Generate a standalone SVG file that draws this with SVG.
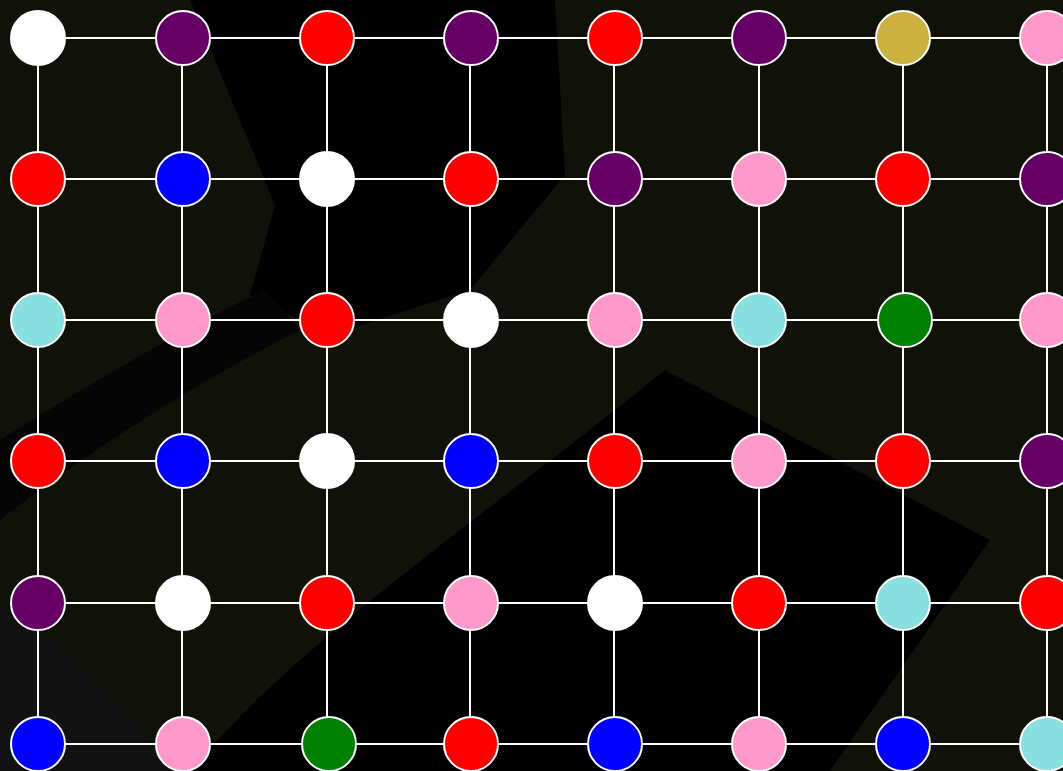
<svg xmlns="http://www.w3.org/2000/svg" width="1063" height="771" viewBox="0 0 1063 771">
<defs>
<style>
.e{stroke:#ffffff;stroke-width:2;fill:none}
.n{stroke:#ffffff;stroke-width:2}
.w{fill:#ffffff}.p{fill:#660066}.r{fill:#ff0000}.b{fill:#0000ff}.k{fill:#ff99cc}.c{fill:#88e0e0}.g{fill:#008000}.y{fill:#ccb040}
</style>
</defs>
<rect width="1063" height="771" fill="#10120a"/>
<g id="background">
<path d="M190,0 H555 L565,175 L470,290 L330,335 L250,295 L275,205 Z" fill="#000000"/>
<path d="M0,440 C80,390 180,330 265,290 L300,330 C200,380 90,450 0,520 Z" fill="#050505"/>
<path d="M190,771 C300,640 480,520 665,370 L990,540 L830,771 Z" fill="#000000"/>
<path d="M0,600 C60,650 120,700 170,771 H0 Z" fill="#121212"/>
</g>
<g id="connectors">
<path class="e" d="M38,38H1047M38,179H1047M38,320H1047M38,461H1047M38,603H1047M38,744H1047"/>
<path class="e" d="M38,38V744M182,38V744M327,38V744M470,38V744M614,38V744M759,38V744M903,38V744M1047,38V744"/>
</g>
<g id="nodes">
<g id="n0_0"><circle class="n w" cx="38" cy="38" r="27"/></g>
<g id="n0_1"><circle class="n p" cx="183" cy="38" r="27"/></g>
<g id="n0_2"><circle class="n r" cx="327" cy="38" r="27"/></g>
<g id="n0_3"><circle class="n p" cx="471" cy="38" r="27"/></g>
<g id="n0_4"><circle class="n r" cx="615" cy="38" r="27"/></g>
<g id="n0_5"><circle class="n p" cx="759" cy="38" r="27"/></g>
<g id="n0_6"><circle class="n y" cx="903" cy="38" r="27"/></g>
<g id="n0_7"><circle class="n k" cx="1047" cy="38" r="27"/></g>

<g id="n1_0"><circle class="n r" cx="38" cy="179" r="27"/></g>
<g id="n1_1"><circle class="n b" cx="183" cy="179" r="27"/></g>
<g id="n1_2"><circle class="n w" cx="327" cy="179" r="27"/></g>
<g id="n1_3"><circle class="n r" cx="471" cy="179" r="27"/></g>
<g id="n1_4"><circle class="n p" cx="615" cy="179" r="27"/></g>
<g id="n1_5"><circle class="n k" cx="759" cy="179" r="27"/></g>
<g id="n1_6"><circle class="n r" cx="903" cy="179" r="27"/></g>
<g id="n1_7"><circle class="n p" cx="1047" cy="179" r="27"/></g>

<g id="n2_0"><circle class="n c" cx="38" cy="320" r="27"/></g>
<g id="n2_1"><circle class="n k" cx="183" cy="320" r="27"/></g>
<g id="n2_2"><circle class="n r" cx="327" cy="320" r="27"/></g>
<g id="n2_3"><circle class="n w" cx="471" cy="320" r="27"/></g>
<g id="n2_4"><circle class="n k" cx="615" cy="320" r="27"/></g>
<g id="n2_5"><circle class="n c" cx="759" cy="320" r="27"/></g>
<g id="n2_6"><circle class="n g" cx="905" cy="320" r="27"/></g>
<g id="n2_7"><circle class="n k" cx="1047" cy="320" r="27"/></g>

<g id="n3_0"><circle class="n r" cx="38" cy="461" r="27"/></g>
<g id="n3_1"><circle class="n b" cx="183" cy="461" r="27"/></g>
<g id="n3_2"><circle class="n w" cx="327" cy="461" r="27"/></g>
<g id="n3_3"><circle class="n b" cx="471" cy="461" r="27"/></g>
<g id="n3_4"><circle class="n r" cx="615" cy="461" r="27"/></g>
<g id="n3_5"><circle class="n k" cx="759" cy="461" r="27"/></g>
<g id="n3_6"><circle class="n r" cx="903" cy="461" r="27"/></g>
<g id="n3_7"><circle class="n p" cx="1047" cy="461" r="27"/></g>

<g id="n4_0"><circle class="n p" cx="38" cy="603" r="27"/></g>
<g id="n4_1"><circle class="n w" cx="183" cy="603" r="27"/></g>
<g id="n4_2"><circle class="n r" cx="327" cy="603" r="27"/></g>
<g id="n4_3"><circle class="n k" cx="471" cy="603" r="27"/></g>
<g id="n4_4"><circle class="n w" cx="615" cy="603" r="27"/></g>
<g id="n4_5"><circle class="n r" cx="759" cy="603" r="27"/></g>
<g id="n4_6"><circle class="n c" cx="903" cy="603" r="27"/></g>
<g id="n4_7"><circle class="n r" cx="1047" cy="603" r="27"/></g>

<g id="n5_0"><circle class="n b" cx="38" cy="744" r="27"/></g>
<g id="n5_1"><circle class="n k" cx="183" cy="744" r="27"/></g>
<g id="n5_2"><circle class="n g" cx="329" cy="744" r="27"/></g>
<g id="n5_3"><circle class="n r" cx="471" cy="744" r="27"/></g>
<g id="n5_4"><circle class="n b" cx="615" cy="744" r="27"/></g>
<g id="n5_5"><circle class="n k" cx="759" cy="744" r="27"/></g>
<g id="n5_6"><circle class="n b" cx="903" cy="744" r="27"/></g>
<g id="n5_7"><circle class="n c" cx="1047" cy="744" r="27"/></g>
</g>
</svg>
